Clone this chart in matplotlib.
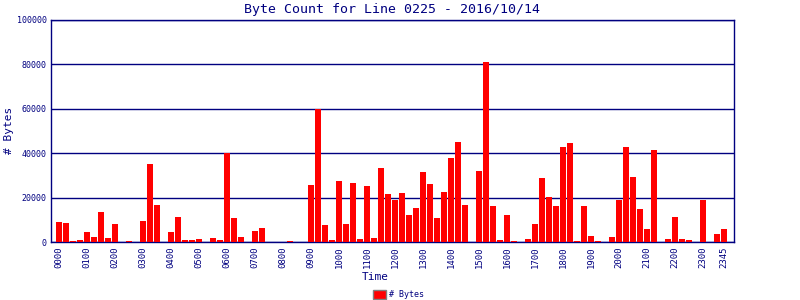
import numpy as np
import matplotlib
matplotlib.use("Agg")
import matplotlib.pyplot as plt
from matplotlib.patches import Rectangle

NAVY = "#000080"

# 15-minute slots, 0000 .. 2345
slots = [f"{h:02d}{m:02d}" for h in range(24) for m in (0, 15, 30, 45)]
byte_counts = [
    9000, 8600, 450, 900, 4500, 2250, 13500, 1800,        # 00
    8100, 0, 450, 0, 9500, 35200, 16700, 0,               # 02
    4500, 11300, 900, 900, 1350, 0, 1800, 900,            # 04
    40000, 10800, 2250, 0, 4950, 6300, 0, 0,              # 06
    0, 450, 0, 0, 25700, 60000, 7650, 900,                # 08
    27500, 8100, 26600, 1350, 25200, 1800, 33300, 21600,  # 10
    18900, 22100, 12200, 15300, 31500, 26100, 10800, 22500,  # 12
    37900, 45100, 16700, 0, 32000, 81000, 16200, 900,     # 14
    12200, 450, 0, 1350, 8100, 28800, 20300, 16200,       # 16
    42800, 44600, 450, 16200, 2700, 450, 0, 2250,         # 18
    18900, 42800, 29300, 14900, 5900, 41500, 0, 1350,     # 20
    11300, 1350, 900, 0, 18900, 0, 3600, 5900,            # 22
]
tick_labels = [f"{h:02d}00" for h in range(24)] + ["2345"]

plt.rcParams["font.family"] = "DejaVu Sans Mono"

fig = plt.figure(figsize=(8, 3), dpi=100)
ax = fig.add_axes([51 / 800, 1 - 242 / 300, 683 / 800, 222 / 300])

x = np.arange(len(slots))
ax.bar(x, byte_counts, width=0.86, color="#ff0000", zorder=3)

ax.set_xlim(-1.14, 96.43)
ax.set_ylim(0, 100000)
ax.set_yticks(range(0, 100001, 20000))
ax.set_yticklabels([str(v) for v in range(0, 100001, 20000)], fontsize=6, color=NAVY)
tick_pos = [slots.index(t) for t in tick_labels]
ax.set_xticks(tick_pos)
ax.set_xticklabels(tick_labels, rotation=90, fontsize=6.5, color=NAVY)
ax.tick_params(length=0, pad=3)
ax.grid(axis="y", color=NAVY, lw=1, zorder=1)
for s in ax.spines.values():
    s.set_color(NAVY)
    s.set_linewidth(1)

fig.text(0.49, 1 - 9 / 300, "Byte Count for Line 0225 - 2016/10/14",
         ha="center", va="center", fontsize=9.5, color=NAVY)
fig.text(9 / 800, 1 - 130 / 300, "# Bytes", rotation=90,
         ha="center", va="center", fontsize=8, color=NAVY)
fig.text(375 / 800, 1 - 277 / 300, "Time", ha="center", va="center",
         fontsize=8, color=NAVY)

# legend at the bottom
fig.patches.append(Rectangle((373 / 800, 1 - 299 / 300), 13 / 800, 9 / 300,
                             transform=fig.transFigure, facecolor="#ff0000",
                             edgecolor="#808080", lw=1))
fig.text(389 / 800, 1 - 294.5 / 300, "# Bytes", ha="left", va="center",
         fontsize=6, color=NAVY)

fig.savefig("out.png", dpi=100)
